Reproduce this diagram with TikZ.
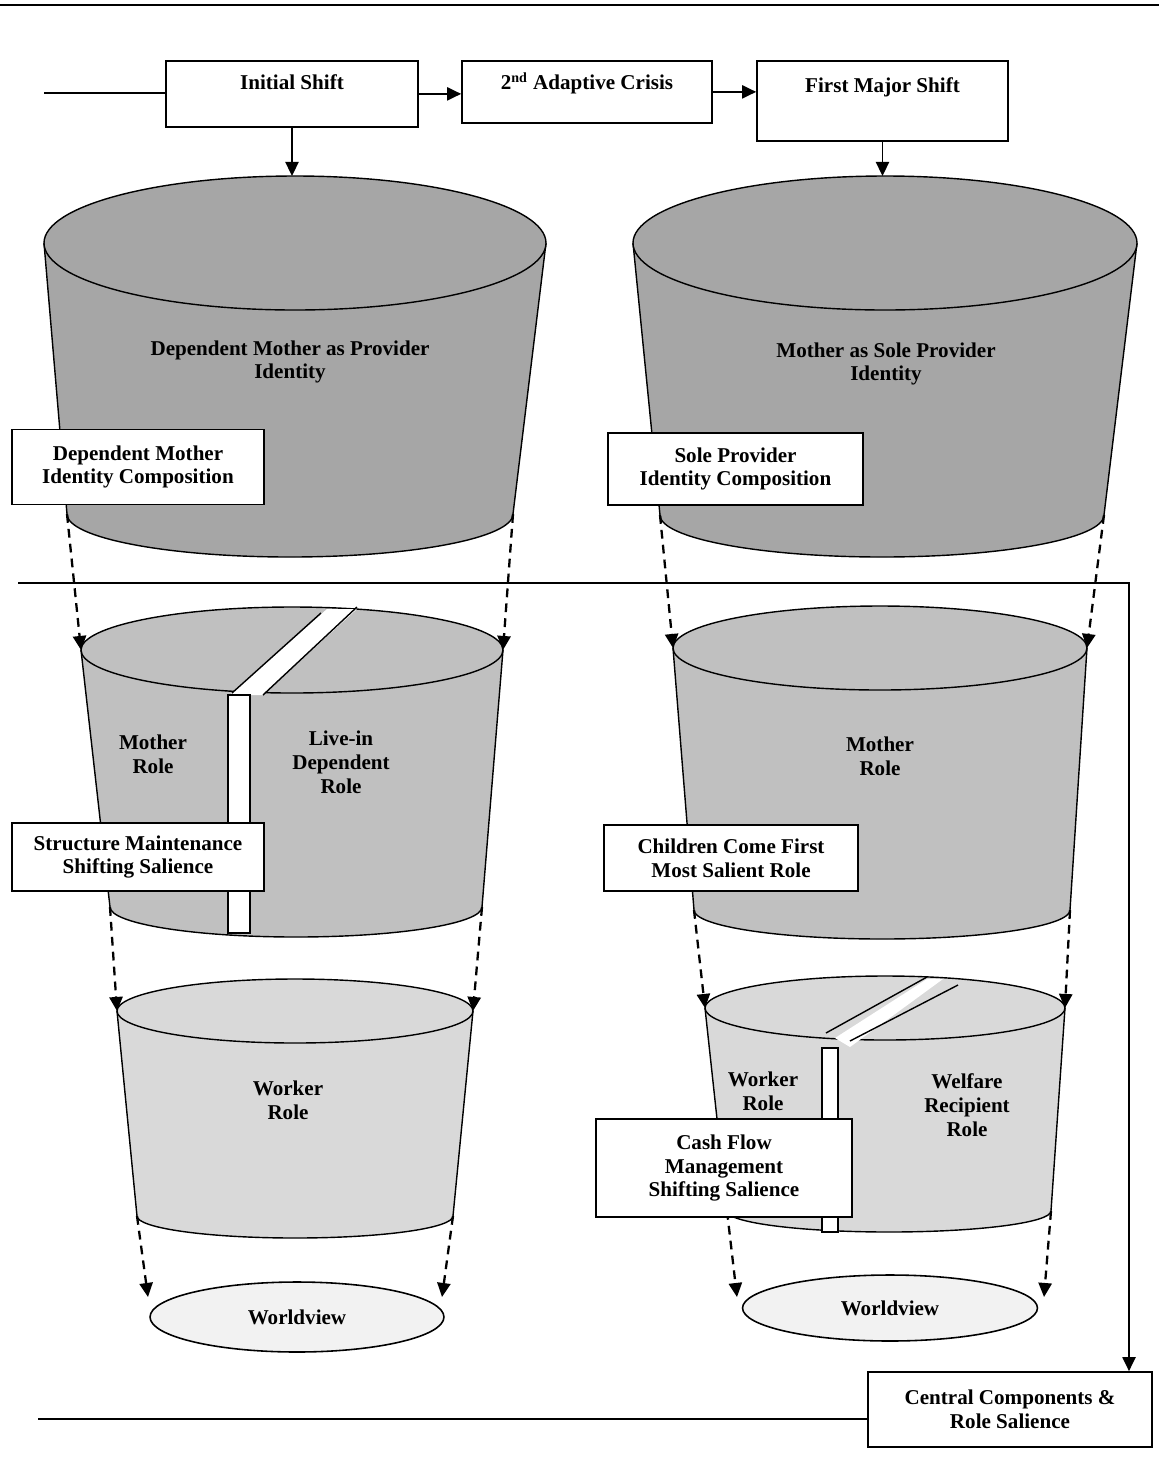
\documentclass[tikz,border=0pt]{standalone}
\usepackage{fontspec}
\setmainfont{Liberation Serif}
\usetikzlibrary{arrows.meta,shapes.geometric}

\definecolor{bigfill}{HTML}{A6A6A6}
\definecolor{midfill}{HTML}{C0C0C0}
\definecolor{lowfill}{HTML}{D9D9D9}
\definecolor{wvfill}{HTML}{F2F2F2}

\begin{document}
\begin{tikzpicture}[x=0.02cm, y=-0.02cm, >={Triangle[length=8pt,width=7.5pt]},
  every node/.style={font=\fontsize{12}{13.6}\selectfont\bfseries},
  tubline/.style={line width=0.8pt},
  link/.style={->,line width=1pt},
  flow/.style={->,line width=1.3pt,dash pattern=on 5pt off 3.5pt},
  lbl/.style={align=center,inner sep=0pt},
  note/.style={draw,line width=1pt,fill=white,align=center,inner sep=0pt},
  topbox/.style={draw,line width=1pt,fill=white,anchor=north,inner sep=0pt},
  world/.style={ellipse,draw,line width=0.9pt,fill=wvfill,inner sep=0pt}]
  \useasboundingbox (0,0) rectangle (1159,1472);

  % rules
  \draw[line width=1.2pt] (0,5) -- (1159,5);
  \coordinate (splitL) at (18,583);
  \coordinate (splitR) at (1129,583);
  \coordinate (baseL) at (38,1419);

  % the six tubs
  \foreach \n/\tx/\ty/\trx/\try/\bx/\by/\brx/\bry/\col in {
      bigL/295/243/251/67/290/514/223/43/bigfill,
      bigR/885/243/252/67/882/515/222/42/bigfill,
      midL/292/650/211/43/296/907/186/30/midfill,
      midR/880/648/207/42/882/910/188/29/midfill,
      lowL/295/1011/178/32/295/1216/158/22/lowfill,
      lowR/885/1008/180/32/889/1211/162/21/lowfill}{
    \fill[\col] (\tx-\trx,\ty) -- (\bx-\brx,\by)
      arc[start angle=180,end angle=0,x radius=\brx,y radius=\bry]
      -- (\tx+\trx,\ty) -- cycle;
    \draw[tubline] (\tx-\trx,\ty) -- (\bx-\brx,\by)
      arc[start angle=180,end angle=0,x radius=\brx,y radius=\bry]
      -- (\tx+\trx,\ty);
    \filldraw[tubline,fill=\col] (\tx,\ty) ellipse[x radius=\trx,y radius=\try];
    \coordinate (\n-tl) at (\tx-\trx,\ty);
    \coordinate (\n-tr) at (\tx+\trx,\ty);
    \coordinate (\n-bl) at (\bx-\brx,\by);
    \coordinate (\n-br) at (\bx+\brx,\by);
    \coordinate (\n-top) at (\tx,\ty-\try);
  }

  % dividers
  \fill[white] (230,695) -- (263,695) -- (357,609) -- (327,609) -- cycle;
  \draw[tubline] (232,693) -- (321,613);
  \draw[tubline] (263,695) -- (357,607);
  \filldraw[tubline,fill=white] (228,695) rectangle (250,933);
  \fill[white] (835,1038) -- (850,1047) -- (943,979) -- (927,979) -- cycle;
  \draw[tubline] (826,1033) -- (927,977);
  \draw[tubline] (850,1041) -- (958,985);
  \filldraw[tubline,fill=white] (822,1048) rectangle (838,1232);

  % top row
  \coordinate (start) at (44,93);
  \node[topbox,minimum width=5.04cm,text height=0.58cm,text depth=0.74cm]
    (init) at (292,60) {Initial Shift};
  \node[topbox,minimum width=5cm,text height=0.58cm,text depth=0.66cm]
    (crisis) at (587,60) {2\textsuperscript{nd} Adaptive Crisis};
  \node[topbox,minimum width=5.02cm,text height=0.64cm,text depth=0.96cm]
    (major) at (882.5,60) {First Major Shift};
  \draw[line width=1pt] (start) -- (start -| init.west);
  \draw[link] (init.east) -- (init.east -| crisis.west);
  \draw[link] (crisis.east) -- (crisis.east -| major.west);
  \draw[link] (init.south) -- (init.south |- bigL-top);
  \draw[link] (major.south) -- (major.south |- bigR-top);

  % texts in the tubs
  \node[lbl] (idL) at (290,362) {Dependent Mother as Provider\\Identity};
  \node[lbl] (idR) at (886,364) {Mother as Sole Provider\\Identity};
  \node[lbl] (motherL) at (153,754) {Mother\\Role};
  \node[lbl] (liveIn) at (341,762) {Live-in\\Dependent\\Role};
  \node[lbl] (motherR) at (880,756) {Mother\\Role};
  \node[lbl] (workerL) at (288,1100) {Worker\\Role};
  \node[lbl] (workerR) at (763,1091) {Worker\\Role};
  \node[lbl] (welfare) at (967,1105) {Welfare\\Recipient\\Role};

  % worldviews
  \node[world,minimum width=5.88cm,minimum height=1.4cm] (wvL) at (297,1317) {Worldview};
  \node[world,minimum width=5.9cm,minimum height=1.32cm] (wvR) at (890,1308) {Worldview};
  \coordinate (wvL-a) at (148,1297);
  \coordinate (wvL-b) at (442,1297);
  \coordinate (wvR-a) at (737,1297);
  \coordinate (wvR-b) at (1044,1297);

  % flows between layers
  \draw[flow] (bigL-bl) -- (midL-tl);
  \draw[flow] (bigL-br) -- (midL-tr);
  \draw[flow] (bigR-bl) -- (midR-tl);
  \draw[flow] (bigR-br) -- (midR-tr);
  \draw[flow] (midL-bl) -- (lowL-tl);
  \draw[flow] (midL-br) -- (lowL-tr);
  \draw[flow] (midR-bl) -- (lowR-tl);
  \draw[flow] (midR-br) -- (lowR-tr);
  \draw[flow] (lowL-bl) -- (wvL-a);
  \draw[flow] (lowL-br) -- (wvL-b);
  \draw[flow] (lowR-bl) -- (wvR-a);
  \draw[flow] (lowR-br) -- (wvR-b);

  % notes
  \node[note,minimum width=5.04cm,minimum height=1.5cm] (depComp) at (138,467)
    {Dependent Mother\\Identity Composition};
  \node[note,minimum width=5.1cm,minimum height=1.44cm] (soleComp) at (735.5,469)
    {Sole Provider\\Identity Composition};
  \node[note,minimum width=5.04cm,minimum height=1.36cm] (structBox) at (138,857)
    {Structure Maintenance\\Shifting Salience};
  \node[note,minimum width=5.08cm,minimum height=1.32cm] (childBox) at (731,858)
    {Children Come First\\Most Salient Role};
  \node[note,minimum width=5.12cm,minimum height=1.96cm] (cashBox) at (724,1168)
    {Cash Flow\\Management\\Shifting Salience};
  \node[note,minimum width=5.68cm,minimum height=1.5cm] (central) at (1010,1409.5)
    {Central Components \&\\Role Salience};

  \draw[link] (splitL) -- (splitR) -- (splitR |- central.north);
  \draw[line width=1pt] (baseL) -- (baseL -| central.west);
\end{tikzpicture}
\end{document}
